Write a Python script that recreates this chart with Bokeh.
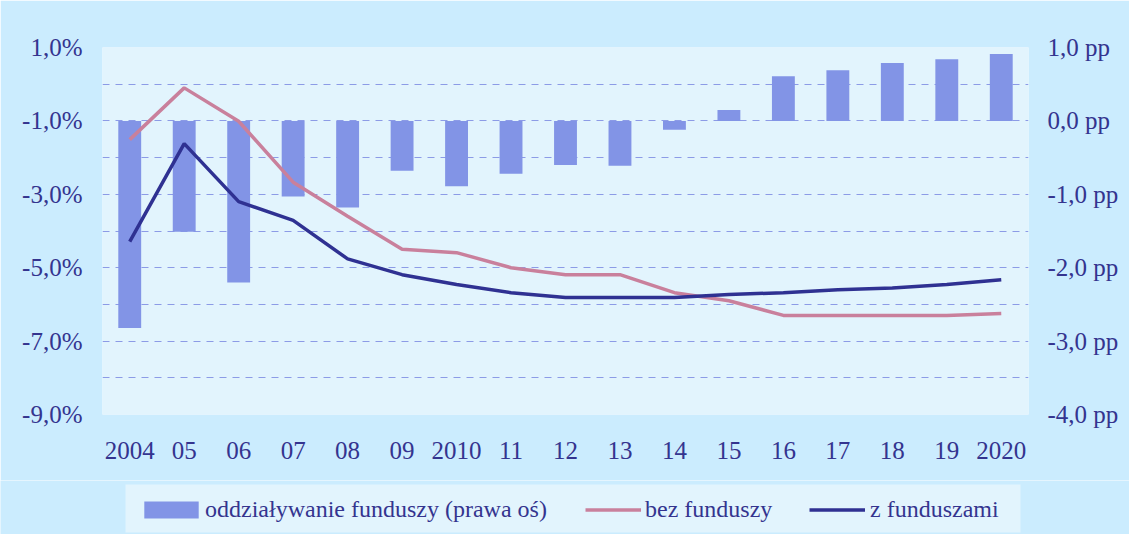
from bokeh.plotting import figure
from bokeh.models import (Range1d, LinearAxis, FixedTicker, Legend, LegendItem,
                          ColumnDataSource, FactorRange, BoxAnnotation)
from bokeh.embed import file_html
from bokeh.resources import INLINE

# ---- data ----
years = ["2004", "05", "06", "07", "08", "09", "2010", "11", "12", "13",
         "14", "15", "16", "17", "18", "19", "2020"]
impact_pp = [-2.82, -1.51, -2.20, -1.03, -1.18, -0.68, -0.89, -0.72, -0.60,
             -0.61, -0.12, 0.15, 0.61, 0.69, 0.79, 0.84, 0.91]
without_funds = [-1.51, -0.10, -1.01, -2.67, -3.60, -4.50, -4.59, -5.00, -5.19,
                 -5.19, -5.68, -5.90, -6.30, -6.30, -6.30, -6.30, -6.25]
with_funds = [-4.29, -1.62, -3.20, -3.71, -4.76, -5.19, -5.46, -5.68, -5.81,
              -5.81, -5.81, -5.73, -5.68, -5.60, -5.55, -5.46, -5.33]

left_ticks = [-9, -7, -5, -3, -1, 1]
left_labels = ["-9,0%", "-7,0%", "-5,0%", "-3,0%", "-1,0%", "1,0%"]
right_ticks = [-4, -3, -2, -1, 0, 1]
right_labels = ["-4,0 pp", "-3,0 pp", "-2,0 pp", "-1,0 pp", "0,0 pp", "1,0 pp"]
grid_ticks = [-9, -8, -7, -6, -5, -4, -3, -2, -1, 0, 1]

label_names = ["oddziaływanie funduszy (prawa oś)", "bez funduszy", "z funduszami"]

# ---- style ----
OUTER = "#cbecfe"
INNER = "#e2f4fd"
TXT = "#34348f"
BAR = "#8294e6"
PINK = "#c9809c"
NAVY = "#2f3192"
GRID = "#8c9be6"
FONT = "Liberation Serif"
LW = 3.5

src = ColumnDataSource(dict(x=years, impact=impact_pp, bez=without_funds, z=with_funds))

p = figure(width=1129, height=480, x_range=FactorRange(*years, range_padding=0),
           y_range=Range1d(-9, 1), output_backend="svg", toolbar_location=None,
           min_border_left=102, min_border_right=101, min_border_top=47,
           min_border_bottom=66)
p.extra_y_ranges = {"pp": Range1d(-4, 1)}

p.background_fill_color = INNER
p.border_fill_color = OUTER
p.outline_line_color = None

bars = p.vbar(x="x", top="impact", bottom=0, width=0.42, source=src,
              y_range_name="pp", fill_color=BAR, line_color=None)
l1 = p.line(x="x", y="bez", source=src, line_color=PINK, line_width=LW)
l2 = p.line(x="x", y="z", source=src, line_color=NAVY, line_width=LW)

# axes
p.yaxis.ticker = FixedTicker(ticks=left_ticks)
p.yaxis.major_label_overrides = dict(zip(left_ticks, left_labels))
ra = LinearAxis(y_range_name="pp", ticker=FixedTicker(ticks=right_ticks))
ra.major_label_overrides = dict(zip(right_ticks, right_labels))
p.add_layout(ra, "right")

for ax in [p.xaxis[0], p.yaxis[0], ra]:
    ax.axis_line_color = None
    ax.major_tick_line_color = None
    ax.minor_tick_line_color = None
    ax.major_tick_out = 0
    ax.major_tick_in = 0
    ax.minor_tick_out = 0
    ax.major_label_text_font = FONT
    ax.major_label_text_font_size = "25px"
    ax.major_label_text_color = TXT
p.xaxis.major_label_standoff = 27
p.yaxis[0].major_label_standoff = 20
ra.major_label_standoff = 19

p.xgrid.grid_line_color = None
p.ygrid.ticker = FixedTicker(ticks=grid_ticks)
p.ygrid.grid_line_color = GRID
p.ygrid.grid_line_dash = "7 6"
p.ygrid.grid_line_width = 1

# ---- legend strip: second figure (data kept out of its view) ----
p2 = figure(width=1129, height=54, x_range=FactorRange(*years),
            y_range=Range1d(100, 101), output_backend="svg",
            toolbar_location=None, x_axis_type=None, y_axis_type=None,
            min_border=0)
p2.background_fill_color = OUTER
p2.border_fill_color = OUTER
p2.outline_line_color = None
p2.xgrid.visible = False
p2.ygrid.visible = False

box = BoxAnnotation(left=125, right=1020, top=4, bottom=52,
                    left_units="canvas", right_units="canvas",
                    top_units="canvas", bottom_units="canvas",
                    fill_color=INNER, fill_alpha=1.0, line_color=None,
                    level="underlay")
p2.add_layout(box)

g1 = p2.vbar(x="x", top="impact", bottom=0, width=0.42, source=src,
             fill_color=BAR, line_color=None)
g2 = p2.line(x="x", y="bez", source=src, line_color=PINK, line_width=LW)
g3 = p2.line(x="x", y="z", source=src, line_color=NAVY, line_width=LW)

legend_specs = [  # (renderer, label, location, glyph_width, glyph_height, standoff)
    (g1, label_names[0], (137, 11), 68, 21, 0),
    (g2, label_names[1], (585, 11), 56, 17, 4),
    (g3, label_names[2], (809, 11), 56, 17, 5),
]
for rend, lab, loc, gw, gh, so in legend_specs:
    lg = Legend(items=[LegendItem(label=lab, renderers=[rend])],
                orientation="horizontal", location=loc)
    lg.background_fill_alpha = 0
    lg.border_line_color = None
    lg.padding = 0
    lg.margin = 0
    lg.glyph_width = gw
    lg.glyph_height = gh
    lg.label_standoff = so
    lg.label_text_font = FONT
    lg.label_text_font_size = "24px"
    lg.label_text_color = TXT
    p2.add_layout(lg, "center")

open("out.html", "w").write(file_html([p, p2], INLINE))
